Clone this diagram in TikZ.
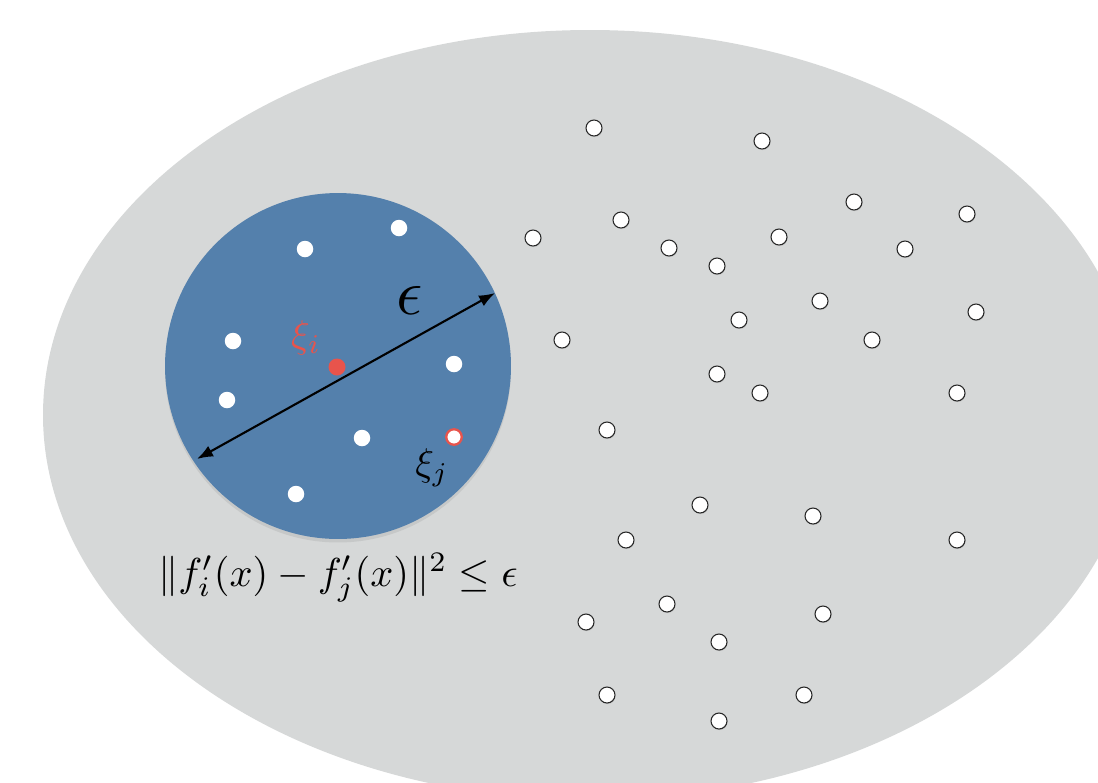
\documentclass[tikz,border=0pt]{standalone}
\usepackage{amsmath}
\usetikzlibrary{arrows.meta,shadows}
\definecolor{haze}{RGB}{214,216,216}
\definecolor{ballblue}{RGB}{84,128,172}
\definecolor{xired}{RGB}{232,84,76}

\begin{document}
\begin{tikzpicture}[
    x=0.02cm, y=-0.02cm,
    sample/.style={circle, draw=black!85, fill=white, line width=0.6pt, inner sep=0pt, minimum size=0.32cm,
      drop shadow={opacity=0.25, shadow xshift=0.3pt, shadow yshift=-0.6pt}},
    inball/.style={circle, fill=white, inner sep=0pt, minimum size=0.33cm},
    >={Latex[length=0.32cm, width=0.24cm]},
]
\useasboundingbox (0,0) rectangle (1098,782);
\clip (0,0) rectangle (1098,782);

% Outer region
\fill[haze] (590,415) ellipse [x radius=547, y radius=385];

% Samples outside the ball
\foreach \px/\py [count=\k] in {594/128, 762/141, 854/202, 967/214, 621/220, 533/238, 669/248,
    779/237, 905/249, 717/266, 820/301, 976/312, 739/320, 562/340, 872/340, 717/374, 760/393,
    957/393, 607/430, 700/505, 813/516, 626/540, 957/540, 667/604, 823/614, 586/622, 719/642,
    607/695, 804/695, 719/721}
  \node[sample] (s\k) at (\px,\py) {};

% The epsilon ball
\node[circle, fill=ballblue, inner sep=0pt, minimum size=6.92cm,
  drop shadow={opacity=0.18, shadow xshift=0pt, shadow yshift=-2pt}] (ball) at (338,366) {};

\foreach \px/\py [count=\k] in {305/249, 399/228, 233/341, 227/400, 454/364, 362/438, 296/494}
  \node[inball] (w\k) at (\px,\py) {};

% Diameter
\coordinate (eps-lo) at (197,459);
\coordinate (eps-hi) at (495,293);
\draw[<->, line width=1.2pt] (eps-lo) -- (eps-hi);
\node[scale=3.7] (eps) at (410,300) {$\epsilon$};

% The two marked samples
\node[circle, fill=xired, inner sep=0pt, minimum size=0.34cm] (xi) at (337,367) {};
\node[circle, fill=white, draw=xired, line width=1.3pt, inner sep=0pt, minimum size=0.31cm] (xj) at (454,437) {};
\node[text=xired, scale=2.2] (xi-lab) at (306,338) {$\xi_i$};
\node[scale=2.2] (xj-lab) at (432,468) {$\xi_j$};

% Condition
\node[scale=2.3] (cond) at (338,578) {$\|f_i'(x)-f_j'(x)\|^2\le\epsilon$};

\end{tikzpicture}
\end{document}
